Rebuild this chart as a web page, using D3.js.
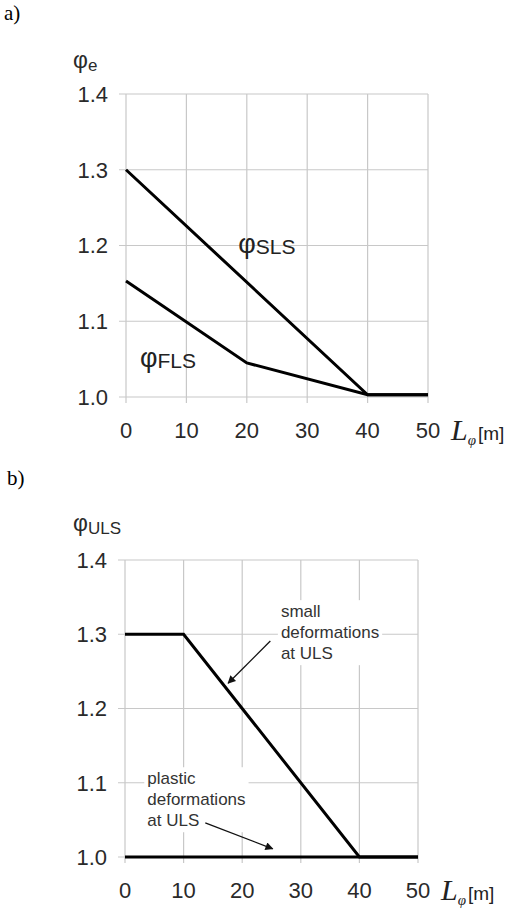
<!DOCTYPE html>
<html>
<head>
<meta charset="utf-8">
<script src="https://cdn.jsdelivr.net/npm/d3@7"></script>
<style>
  body { margin: 0; background: #fff; }
  svg { display: block; }
</style>
</head>
<body>
<script>
// tick values shared by both panels
const xTicks = [0, 10, 20, 30, 40, 50];
const yTicks = [1.0, 1.1, 1.2, 1.3, 1.4];

// panel a) dynamic factors
const slsX = [0, 40, 50];
const slsY = [1.3, 1.003, 1.003];
const flsX = [0, 20, 40, 50];
const flsY = [1.153, 1.045, 1.003, 1.003];

// panel b) ULS factors
const ulsSmallX = [0, 10, 40, 50];
const ulsSmallY = [1.3, 1.3, 1.0, 1.0];
const ulsPlasticX = [0, 50];
const ulsPlasticY = [1.0, 1.0];

const W = 529, H = 912;
const sans = "'Liberation Sans', Arial, sans-serif";
const serif = "'Liberation Serif', 'Times New Roman', serif";

const svg = d3.select("body").append("svg")
  .attr("width", W).attr("height", H);

// arrow head
svg.append("defs").append("marker")
  .attr("id", "arr")
  .attr("viewBox", "0 0 10 10")
  .attr("refX", 9).attr("refY", 5)
  .attr("markerWidth", 11).attr("markerHeight", 8)
  .attr("markerUnits", "userSpaceOnUse")
  .attr("orient", "auto")
  .append("path").attr("d", "M0,0 L10,5 L0,10 Z").attr("fill", "#111");

function toPts(xs, ys) { return xs.map((d, i) => [d, ys[i]]); }

function drawPanel(p) {
  const x = d3.scaleLinear().domain([0, 50]).range([p.left, p.right]);
  const y = d3.scaleLinear().domain([1.0, 1.4]).range([p.bottom, p.top]);
  const g = svg.append("g");

  // panel letter
  g.append("text").attr("x", p.letterX).attr("y", p.letterY)
    .attr("font-family", serif).attr("font-size", 21).attr("fill", "#000")
    .text(p.letter);

  // grid
  g.selectAll(".vgrid").data(xTicks).enter().append("line")
    .attr("x1", d => x(d)).attr("x2", d => x(d))
    .attr("y1", y(1.4)).attr("y2", y(1.0) + 6)
    .attr("stroke", "#c8c8c8").attr("stroke-width", 1.2);
  g.selectAll(".hgrid").data(yTicks).enter().append("line")
    .attr("x1", x(0) - 7).attr("x2", x(50))
    .attr("y1", d => y(d)).attr("y2", d => y(d))
    .attr("stroke", "#c8c8c8").attr("stroke-width", 1.2);

  // tick labels
  g.selectAll(".yl").data(yTicks).enter().append("text")
    .attr("x", x(0) - 18).attr("y", d => y(d)).attr("dy", "0.36em")
    .attr("text-anchor", "end").attr("font-family", sans)
    .attr("font-size", 22).attr("fill", "#2a2a2a")
    .text(d => d3.format(".1f")(d));
  g.selectAll(".xl").data(xTicks).enter().append("text")
    .attr("x", d => x(d)).attr("y", y(1.0) + 41)
    .attr("text-anchor", "middle").attr("font-family", sans)
    .attr("font-size", 22).attr("fill", "#2a2a2a")
    .text(d => d);

  // y axis title
  const yt = g.append("text").attr("x", 73).attr("y", p.titleY)
    .attr("font-family", sans).attr("fill", "#2a2a2a");
  yt.append("tspan").attr("font-size", 23).text("φ");
  yt.append("tspan").attr("font-size", 17).attr("dy", 3).text(p.sub);

  // x axis title
  const xt = g.append("text").attr("x", x(50) + 23).attr("y", y(1.0) + 43)
    .attr("fill", "#222");
  xt.append("tspan").attr("font-family", serif).attr("font-style", "italic")
    .attr("font-size", 30).text("L");
  xt.append("tspan").attr("font-family", serif).attr("font-style", "italic")
    .attr("font-size", 15).attr("dy", 5).text("φ");
  xt.append("tspan").attr("font-family", sans).attr("font-size", 19)
    .attr("dy", -5).attr("dx", 2).text("[m]");

  const line = d3.line().x(d => x(d[0])).y(d => y(d[1]));
  p.series.forEach(s => {
    g.append("path").datum(s).attr("d", line)
      .attr("fill", "none").attr("stroke", "#000")
      .attr("stroke-width", 3).attr("stroke-linejoin", "miter");
  });

  return { g, x, y };
}

// ---- panel a
const a = drawPanel({
  letter: "a)", letterX: 4, letterY: 20,
  left: 126, right: 428, top: 94, bottom: 397,
  titleY: 68, sub: "e",
  series: [toPts(slsX, slsY), toPts(flsX, flsY)]
});
function phiLabel(g, px, py, sub) {
  const t = g.append("text").attr("x", px).attr("y", py)
    .attr("font-family", sans).attr("fill", "#222");
  t.append("tspan").attr("font-size", 27).text("φ");
  t.append("tspan").attr("font-size", 21).attr("dy", 1).text(sub);
}
phiLabel(a.g, a.x(18.6), a.y(1.19), "SLS");
phiLabel(a.g, a.x(2.3), a.y(1.04), "FLS");

// ---- panel b
const b = drawPanel({
  letter: "b)", letterX: 7, letterY: 485,
  left: 125, right: 418, top: 560, bottom: 857,
  titleY: 531, sub: "ULS",
  series: [toPts(ulsSmallX, ulsSmallY), toPts(ulsPlasticX, ulsPlasticY)]
});

function note(g, px, py, lines) {
  const t = g.append("g");
  const txt = t.append("text").attr("font-family", sans)
    .attr("font-size", 17).attr("fill", "#333");
  lines.forEach((l, i) => {
    txt.append("tspan").attr("x", px).attr("y", py + i * 21).text(l);
  });
  const bb = txt.node().getBBox();
  t.insert("rect", "text").attr("x", bb.x - 3).attr("y", bb.y - 2)
    .attr("width", bb.width + 6).attr("height", bb.height + 4)
    .attr("fill", "#fff");
}
note(b.g, b.x(26.6), b.y(1.323), ["small", "deformations", "at ULS"]);
note(b.g, b.x(3.8), b.y(1.098), ["plastic", "deformations", "at ULS"]);

// arrows
b.g.append("line")
  .attr("x1", b.x(24.8)).attr("y1", b.y(1.291))
  .attr("x2", b.x(17.6)).attr("y2", b.y(1.234))
  .attr("stroke", "#111").attr("stroke-width", 1.3)
  .attr("marker-end", "url(#arr)");
b.g.append("line")
  .attr("x1", b.x(13.7)).attr("y1", b.y(1.046))
  .attr("x2", b.x(25.2)).attr("y2", b.y(1.011))
  .attr("stroke", "#111").attr("stroke-width", 1.3)
  .attr("marker-end", "url(#arr)");
</script>
</body>
</html>
